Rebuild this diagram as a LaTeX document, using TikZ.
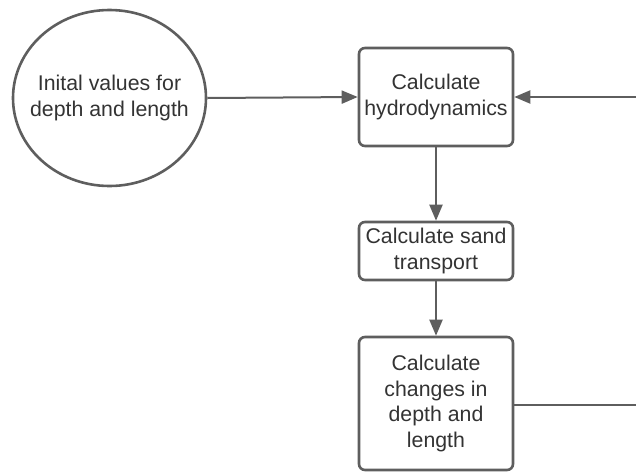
\documentclass[tikz,border=0pt]{standalone}
\usepackage{fontspec}
\setmainfont{Liberation Sans}
\usetikzlibrary{arrows.meta,shapes.geometric}
\definecolor{linec}{HTML}{5E5E5E}
\definecolor{textc}{HTML}{333333}
\begin{document}
\begin{tikzpicture}[x=1pt,y=-1pt,
  every node/.style={font=\fontsize{21.3}{25.5}\selectfont, text=textc, align=center, inner sep=0pt},
  procbox/.style={draw=linec, line width=2.6pt, rounded corners=6pt, minimum width=154pt, fill=white},
  startell/.style={ellipse, draw=linec, line width=2.6pt, minimum width=193pt, minimum height=176pt},
  conn/.style={draw=linec, line width=2pt},
  arr/.style={conn, -{Triangle[length=16pt,width=13pt]}}]
\useasboundingbox (0,0) rectangle (636,472);
\node[startell] (init) at (109.5,98) {};
\node (inittxt) at (init.center) {Inital values for\\depth and length};
\node[procbox, minimum height=98pt] (hyd) at (436,97) {Calculate\\hydrodynamics};
\node[procbox, minimum height=58pt] (sand) at (436,251) {Calculate sand\\transport};
\node[procbox, minimum height=133pt] (chg) at (436,403.5) {Calculate\\changes in\\depth and\\length};
\coordinate (rtop) at (636,97);
\coordinate (rbot) at (636,405);
\draw[arr] (init.east) -- (hyd.west);
\draw[arr] (rtop) -- (hyd.east);
\draw[arr] (hyd.south) -- (sand.north);
\draw[arr] (sand.south) -- (chg.north);
\draw[conn] (chg.east |- rbot) -- (rbot);
\end{tikzpicture}
\end{document}
